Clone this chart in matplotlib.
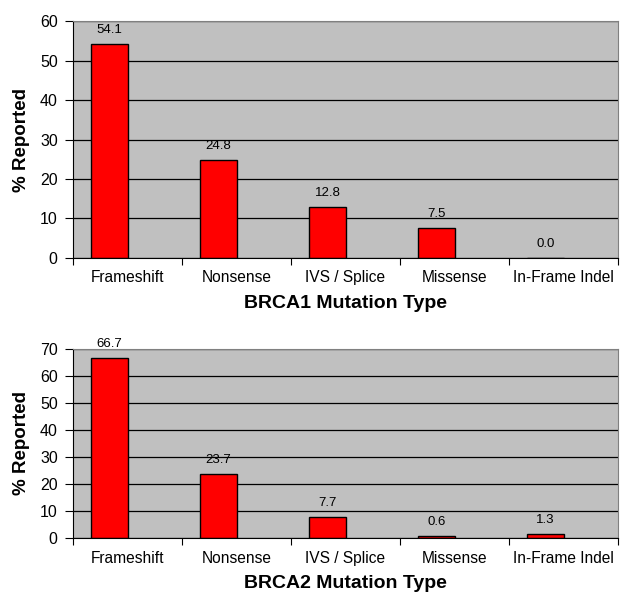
import matplotlib.pyplot as plt
import numpy as np

plt.rcParams['font.family'] = ['Liberation Sans', 'DejaVu Sans']

categories = ["Frameshift", "Nonsense", "IVS / Splice", "Missense", "In-Frame Indel"]
brca1_values = [54.1, 24.8, 12.8, 7.5, 0.0]
brca2_values = [66.7, 23.7, 7.7, 0.6, 1.3]
brca1_yticks = [0, 10, 20, 30, 40, 50, 60]
brca2_yticks = [0, 10, 20, 30, 40, 50, 60, 70]

fig = plt.figure(figsize=(6.27, 5.92), dpi=100)
ax1 = fig.add_axes([0.1164, 0.5642, 0.8692, 0.4003])
ax2 = fig.add_axes([0.1164, 0.0912, 0.8692, 0.3193])


def draw(ax, values, yticks, xlabel):
    x = np.arange(len(categories))
    # bars sit in the left half of each slot (excel-style two-series gap)
    bx = x - 0.165
    ax.set_facecolor('#c0c0c0')
    ax.set_axisbelow(True)
    ax.yaxis.grid(True, color='black', linewidth=0.9)
    ax.bar(bx, values, width=0.34, color='#ff0000', edgecolor='black', linewidth=1)
    for xi, v in zip(bx, values):
        ax.annotate(f"{v:.1f}", (xi, v), xytext=(0, 6), textcoords='offset points',
                    ha='center', va='bottom', fontsize=9.5)
    ax.set_xlim(-0.5, len(categories) - 0.5)
    ax.set_ylim(0, yticks[-1])
    ax.set_yticks(yticks)
    ax.set_xticks(x)
    ax.set_xticklabels(categories, fontsize=11.2)
    ax.tick_params(axis='x', which='major', length=0, pad=9)
    ax.set_xticks(np.arange(-0.5, len(categories), 1), minor=True)
    ax.tick_params(axis='x', which='minor', length=5, direction='out', width=0.8)
    ax.tick_params(axis='y', labelsize=11.5, length=6, width=0.8, pad=5)
    for s in ['top', 'right']:
        ax.spines[s].set_color('#808080')
    ax.spines['left'].set_color('black')
    ax.spines['bottom'].set_color('black')
    ax.set_ylabel("% Reported", fontsize=13.5, fontweight='bold', labelpad=7)
    ax.set_xlabel(xlabel, fontsize=14, fontweight='bold', labelpad=7)


draw(ax1, brca1_values, brca1_yticks, "BRCA1 Mutation Type")
draw(ax2, brca2_values, brca2_yticks, "BRCA2 Mutation Type")

fig.savefig('out.png', dpi=100)
